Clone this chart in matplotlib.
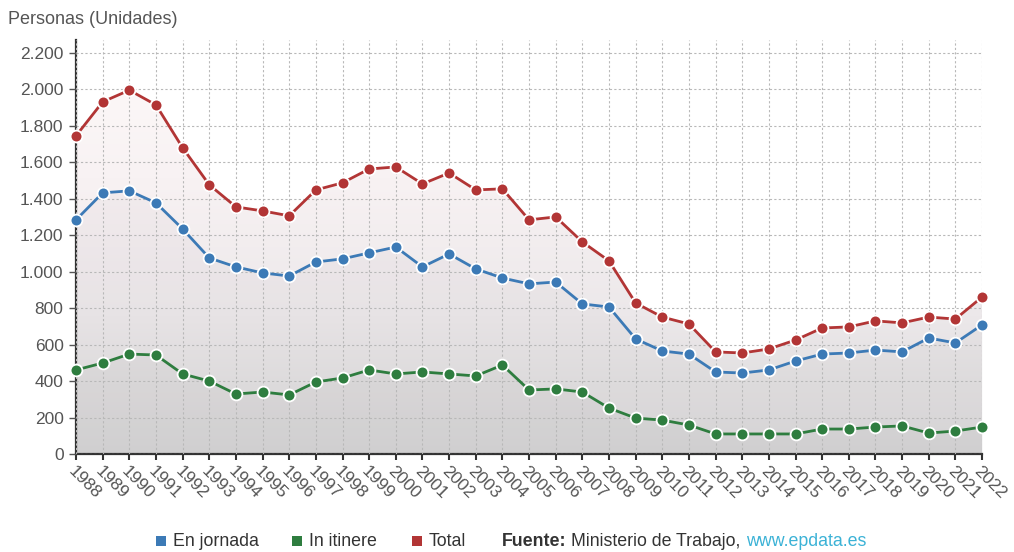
import numpy as np
import matplotlib.pyplot as plt
from matplotlib.colors import LinearSegmentedColormap
from matplotlib.patches import Rectangle

plt.rcParams['font.family'] = ['Liberation Sans', 'DejaVu Sans']

years = list(range(1988, 2023))
en_jornada = [1284, 1432, 1443, 1377, 1234, 1075, 1026, 993, 976, 1053,
              1070, 1103, 1135, 1026, 1097, 1015, 965, 933, 943, 823,
              806, 631, 565, 548, 450, 444, 461, 510, 548, 554,
              570, 560, 636, 609, 708]
in_itinere = [461, 499, 548, 543, 439, 400, 329, 340, 324, 395,
              417, 461, 439, 450, 439, 428, 488, 351, 357, 340,
              252, 197, 186, 159, 110, 110, 110, 110, 137, 137,
              148, 154, 115, 126, 148]
total = [1745, 1931, 1995, 1914, 1679, 1476, 1355, 1333, 1306, 1448,
         1487, 1563, 1574, 1481, 1541, 1448, 1454, 1284, 1300, 1163,
         1059, 828, 751, 713, 560, 554, 576, 625, 691, 697,
         730, 719, 751, 740, 861]

c_blue = '#3c7ab6'
c_green = '#2e7d3f'
c_red = '#b23535'
txt = '#555555'

W, H = 1014, 552
fig = plt.figure(figsize=(W / 100, H / 100), dpi=100)
ax = fig.add_axes([0.075, 0.1775, 0.8935, 0.75])
ax.set_xlim(1988, 2022)
ax.set_ylim(0, 2270)

# gradient background under the total line
cmap = LinearSegmentedColormap.from_list('g', ['#d8d8d8', '#ece8ea', '#f8f2f3', '#fefafa'])
grad = np.linspace(0, 1, 256).reshape(-1, 1)
im = ax.imshow(grad, cmap=cmap, aspect='auto', origin='lower',
               extent=(1988, 2022, 0, 2270), zorder=1)
poly = ax.fill_between(years, total, 0, color='none', lw=0)
im.set_clip_path(poly.get_paths()[0], transform=ax.transData)
ax.fill_between(years, en_jornada, 0, color='#7a6a78', alpha=0.04, lw=0, zorder=1.2)
ax.fill_between(years, in_itinere, 0, color='#888888', alpha=0.05, lw=0, zorder=1.3)

ax.grid(True, color='#b8b8b8', linestyle=(0, (2, 2)), linewidth=0.8, zorder=0)
ax.set_axisbelow(False)
ax.set_xticks(years)
ax.set_yticks(range(0, 2201, 200))
ax.set_yticklabels([f'{v:,}'.replace(',', '.') for v in range(0, 2201, 200)])
for gl in ax.get_xgridlines() + ax.get_ygridlines():
    gl.set_zorder(1.5)

for s, c in [(en_jornada, c_blue), (in_itinere, c_green), (total, c_red)]:
    ax.plot(years, s, color=c, lw=2, marker='o', ms=8.5, mfc=c,
            mec='white', mew=1.3, zorder=3, clip_on=False)

for sp in ['top', 'right']:
    ax.spines[sp].set_visible(False)
for sp in ['left', 'bottom']:
    ax.spines[sp].set_color('#333333')
    ax.spines[sp].set_linestyle((0, (1.5, 1)))
    ax.spines[sp].set_linewidth(1.6)
    ax.spines[sp].set_zorder(2)

ax.tick_params(axis='y', length=5, width=1, color='#555555', labelsize=12.5,
               labelcolor=txt, pad=4)
ax.tick_params(axis='x', length=4, width=1.5, color='#333333', labelsize=12.5,
               labelcolor=txt, pad=3)
for lab in ax.get_xticklabels():
    lab.set_rotation(-45)
    lab.set_ha('left')
    lab.set_va('top')
    lab.set_rotation_mode('anchor')

fig.text(8 / W, 0.965, 'Personas (Unidades)', fontsize=13, color=txt, va='center')

# legend row
ly = 1 - 541 / H
items = [(156, c_blue, 'En jornada'), (292, c_green, 'In itinere'), (412, c_red, 'Total')]
for x, c, t in items:
    fig.patches.append(Rectangle((x / W, ly - 4.5 / H), 9.5 / W, 9.5 / H,
                                 transform=fig.transFigure, color=c, lw=0))
    fig.text((x + 17) / W, ly, t, color='#333333', fontsize=12.8, va='center')
fig.text(502 / W, ly, 'Fuente:', color='#333333', fontsize=12.8, va='center', weight='bold')
fig.text(571 / W, ly, 'Ministerio de Trabajo,', color='#333333', fontsize=12.8, va='center')
fig.text(746 / W, ly, 'www.epdata.es', color='#3bb2d6', fontsize=12.8, va='center')

fig.savefig('out.png', dpi=100)
